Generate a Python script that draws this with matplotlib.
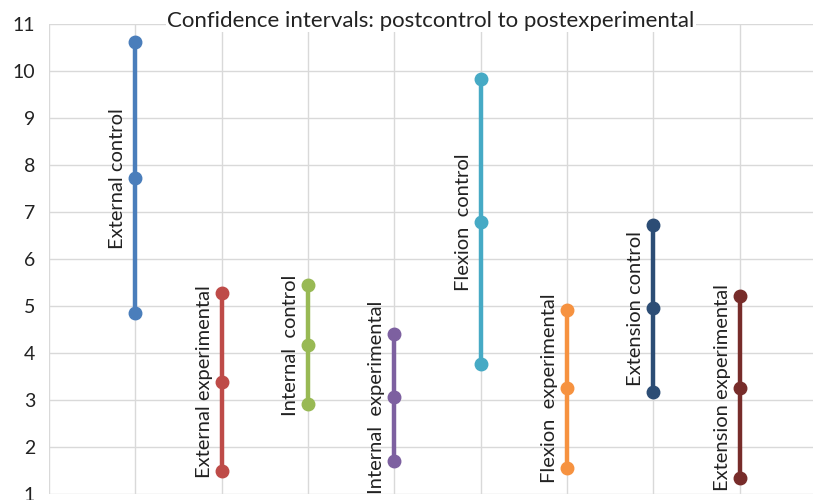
import matplotlib.pyplot as plt

plt.rcParams['font.family'] = ['Lato', 'DejaVu Sans']

# data
groups = ['External control', 'External experimental', 'Internal  control', 'Internal  experimental',
          'Flexion  control', 'Flexion  experimental', 'Extension control', 'Extension experimental']
upper = [10.62, 5.28, 5.45, 4.40, 9.83, 4.91, 6.73, 5.22]
mean = [7.72, 3.39, 4.16, 3.06, 6.79, 3.25, 4.95, 3.26]
lower = [4.86, 1.50, 2.91, 1.71, 3.77, 1.56, 3.16, 1.33]
colors = ['#4a7ebb', '#be4b48', '#98b954', '#7d60a0', '#46aac5', '#f69240', '#2c4d75', '#772c2a']

fig = plt.figure(figsize=(8.13, 5.0), dpi=100)
ax = fig.add_axes([0.0603, 0.012, 0.9397, 0.94])

for i, name in enumerate(groups):
    xpos = i + 1
    ax.plot([xpos, xpos, xpos], [lower[i], mean[i], upper[i]], color=colors[i],
            lw=3.2, marker='o', markersize=9, zorder=3)
    ax.annotate(name, (xpos, mean[i]), xytext=(-12.5, 0), textcoords='offset points',
                rotation=90, ha='center', va='center', fontsize=14.5, color='#222222')

ax.set_xlim(0, 8.85)
ax.set_ylim(1, 11)
ax.set_yticks(range(1, 12))
ax.set_xticks(range(0, 9))
ax.set_xticklabels([])
ax.tick_params(length=0, labelsize=14, labelcolor='#222222', pad=10)
ax.grid(True, color='#d9d9d9', lw=1)
ax.set_axisbelow(True)
for s in ax.spines.values():
    s.set_visible(False)

ax.text(0.53, 0.978, 'Confidence intervals: postcontrol to postexperimental', transform=fig.transFigure,
        ha='center', va='top', fontsize=16, color='#222222',
        bbox=dict(facecolor='white', edgecolor='none', pad=1))

fig.savefig('out.png', dpi=100)
